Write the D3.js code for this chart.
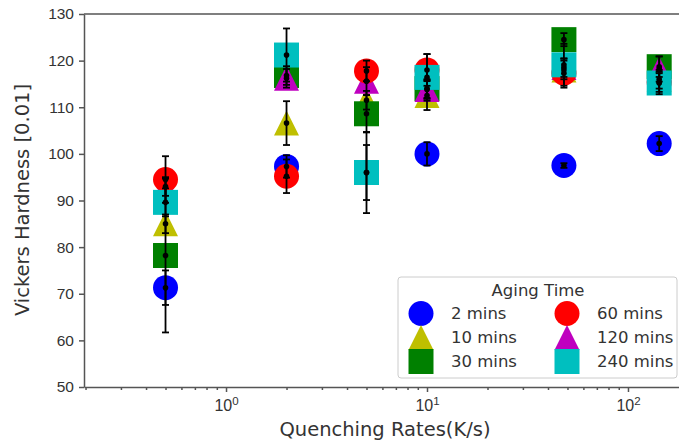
<!DOCTYPE html>
<html lang="en">
<head>
	<meta charset="utf-8">
	<title>Vickers Hardness</title>
	<style>
		body { margin: 0; background: #fff; }
		svg { display: block; font-family: "DejaVu Sans", sans-serif; }
		.axis path, .axis line { stroke: #555; stroke-width: 1.5; }
		.axis text { fill: #333; }
	</style>
</head>
<body>

	<div id="chart"></div>

	<script src="https://cdn.jsdelivr.net/npm/d3@7"></script>
	<script>
		// quenching rates (K/s) and hardness per aging time
		var rates = [0.5, 2, 5, 10, 48, 143];

		var labels = ["2 mins", "10 mins", "30 mins", "60 mins", "120 mins", "240 mins"];

		var hv2   = [71.3, 97.3, 96.0, 100.0, 97.5, 102.2],
		    hv10  = [85.0, 106.6, 111.5, 112.5, 118.0, 116.0],
		    hv30  = [78.2, 116.8, 108.6, 114.0, 124.5, 118.7],
		    hv60  = [94.5, 95.2, 117.8, 118.0, 117.3, 115.3],
		    hv120 = [93.0, 116.2, 115.6, 113.8, 118.5, 118.2],
		    hv240 = [89.6, 121.2, 96.0, 116.4, 119.1, 115.2];

		var err2   = [3.7, 2.4, 5.9, 2.5, 0.5, 1.6],
		    err10  = [2.0, 4.7, 2.0, 3.1, 2.0, 2.0],
		    err30  = [16.5, 2.0, 4.0, 2.0, 1.4, 2.2],
		    err60  = [5.0, 3.6, 2.2, 3.4, 3.1, 2.0],
		    err120 = [2.0, 2.0, 3.0, 2.0, 2.0, 2.7],
		    err240 = [3.0, 5.7, 8.7, 5.0, 4.5, 2.4];

		var yTicks = [50, 60, 70, 80, 90, 100, 110, 120, 130];
		var xTicks = [1, 10, 100];

		var width = 679,
		    height = 445;

		var series = [
			{ name: labels[0], hv: hv2,   err: err2,   color: "#0000ff", shape: "o" },
			{ name: labels[1], hv: hv10,  err: err10,  color: "#bfbf00", shape: "^" },
			{ name: labels[2], hv: hv30,  err: err30,  color: "#008000", shape: "s" },
			{ name: labels[3], hv: hv60,  err: err60,  color: "#ff0000", shape: "o" },
			{ name: labels[4], hv: hv120, err: err120, color: "#bf00bf", shape: "^" },
			{ name: labels[5], hv: hv240, err: err240, color: "#00bfbf", shape: "s" }
		];
		// drawing order seen in the picture (bottom -> top)
		var drawOrder = [0, 1, 2, 4, 3, 5];

		var svg = d3.select("#chart")
				.append("svg")
				.attr("width", width)
				.attr("height", height);

		var x = d3.scaleLog()
				.domain([0.1965, 190])
				.range([84, 684]);

		var y = d3.scaleLinear()
				.domain([50, 130])
				.range([387, 14]);

		var ms = 25;

		function markerPath(shape) {
			var h = ms / 2;
			if (shape == "^") return "M0," + (-h) + "L" + (-h) + "," + h + "L" + h + "," + h + "Z";
			if (shape == "s") return "M" + (-h) + "," + (-h) + "H" + h + "V" + h + "H" + (-h) + "Z";
			return d3.symbol().type(d3.symbolCircle).size(Math.PI * h * h)();
		}

		// minor ticks on the log axis
		var minor = [];
		[0.1, 1, 10, 100].forEach(function(d) {
			for (var k = 2; k <= 9; k++) {
				var v = d * k;
				if (v > x.domain()[0] && v < x.domain()[1]) minor.push(v);
			}
		});

		svg.append("g")
				.attr("class", "axis")
				.attr("transform", "translate(0," + y(50) + ")")
				.call(d3.axisBottom(x).tickValues(minor).tickSize(3).tickFormat(""))
				.select(".domain").remove();

		var xAxis = svg.append("g")
				.attr("class", "axis")
				.attr("transform", "translate(0," + y(50) + ")")
				.call(d3.axisBottom(x).tickValues(xTicks).tickSize(5).tickSizeOuter(0).tickFormat(""));

		xAxis.selectAll(".tick").append("text")
				.attr("y", 24)
				.attr("text-anchor", "middle")
				.style("font-size", "16px")
				.each(function(d) {
					var t = d3.select(this);
					t.append("tspan").text("10");
					t.append("tspan").attr("dy", -6.5).style("font-size", "11.5px").text(Math.round(Math.log10(d)));
				});

		svg.append("g")
				.attr("class", "axis")
				.attr("transform", "translate(84,0)")
				.call(d3.axisLeft(y).tickValues(yTicks).tickSize(5).tickSizeOuter(0).tickPadding(5))
				.selectAll("text")
				.style("font-size", "15.5px");

		// top spine
		svg.append("line")
				.attr("x1", 84).attr("x2", width)
				.attr("y1", y(130)).attr("y2", y(130))
				.attr("stroke", "#555").attr("stroke-width", 1.5);

		svg.append("text")
				.attr("x", 385)
				.attr("y", 436)
				.attr("text-anchor", "middle")
				.style("font-size", "19.5px")
				.attr("fill", "#333")
				.text("Quenching Rates(K/s)");

		svg.append("text")
				.attr("transform", "translate(29,200) rotate(-90)")
				.attr("text-anchor", "middle")
				.style("font-size", "19.5px")
				.attr("fill", "#333")
				.text("Vickers Hardness [0.01]");

		// markers
		var plot = svg.append("g");

		drawOrder.forEach(function(i) {
			var s = series[i];
			plot.selectAll(".m" + i)
				.data(rates)
			.enter().append("path")
				.attr("class", "m" + i)
				.attr("d", markerPath(s.shape))
				.attr("transform", function(d, j) { return "translate(" + x(d) + "," + y(s.hv[j]) + ")"; })
				.attr("fill", s.color);
		});

		// error bars on top
		series.forEach(function(s, i) {
			var g = plot.selectAll(".e" + i)
				.data(rates)
			.enter().append("g")
				.attr("transform", function(d) { return "translate(" + x(d) + ",0)"; });

			g.append("line")
				.attr("y1", function(d, j) { return y(s.hv[j] - s.err[j]); })
				.attr("y2", function(d, j) { return y(s.hv[j] + s.err[j]); })
				.attr("stroke", "#000").attr("stroke-width", 1.8);

			[-1, 1].forEach(function(sg) {
				g.append("line")
					.attr("x1", -3.5).attr("x2", 3.5)
					.attr("y1", function(d, j) { return y(s.hv[j] + sg * s.err[j]); })
					.attr("y2", function(d, j) { return y(s.hv[j] + sg * s.err[j]); })
					.attr("stroke", "#000").attr("stroke-width", 1.8);
			});

			g.append("circle")
				.attr("cy", function(d, j) { return y(s.hv[j]); })
				.attr("r", 2.8)
				.attr("fill", "#000");
		});

		// legend
		var legend = svg.append("g");

		legend.append("rect")
				.attr("x", 398).attr("y", 277)
				.attr("width", 279).attr("height", 101)
				.attr("rx", 3)
				.attr("fill", "#fff")
				.attr("stroke", "#ccc");

		legend.append("text")
				.attr("x", 538).attr("y", 296)
				.attr("text-anchor", "middle")
				.style("font-size", "16.5px")
				.attr("fill", "#333")
				.text("Aging Time");

		var item = legend.selectAll(".item")
				.data(series)
			.enter().append("g")
				.attr("class", "item")
				.attr("transform", function(d, i) {
					return "translate(" + (i < 3 ? 421 : 567) + "," + (313.5 + (i % 3) * 24) + ")";
				});

		item.append("path")
				.attr("d", function(d) { return markerPath(d.shape); })
				.attr("fill", function(d) { return d.color; });

		item.append("text")
				.attr("x", 30)
				.attr("dy", "0.36em")
				.style("font-size", "16.5px")
				.attr("fill", "#333")
				.text(function(d) { return d.name; });
	</script>

</body>
</html>
